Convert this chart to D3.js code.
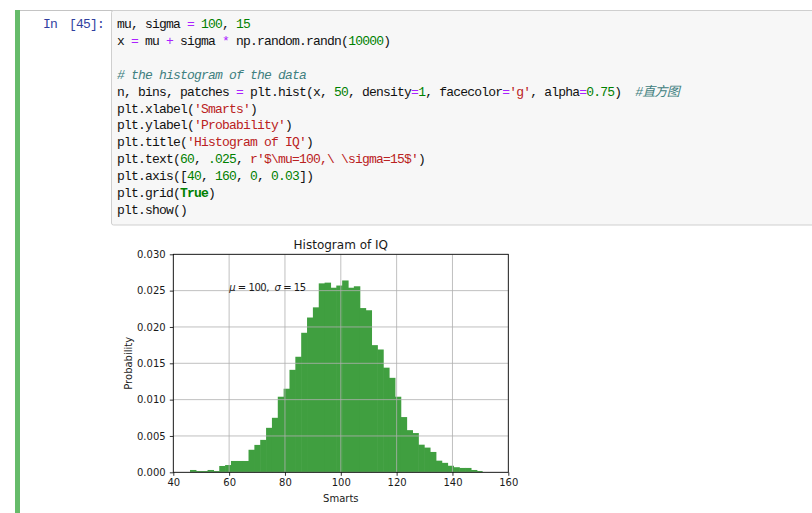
<!DOCTYPE html>
<html>
<head>
<meta charset="utf-8">
<script src="https://cdn.jsdelivr.net/npm/d3@7"></script>
<style>
  html, body { margin: 0; padding: 0; background: #fff; }
  svg { display: block; }
  text.code { white-space: pre; }
</style>
</head>
<body>
<div id="chart"></div>
<script>
// ---------------- data ----------------
const binMin = 45.98;      // left edge of first bin
const binMax = 150.8;      // right edge of last bin
const binCount = 50;
const densities = [
  0.00032, 0.00018, 0.00018, 0.00032, 0.00018, 0.00087, 0.00100, 0.00156, 0.00156, 0.00156,
  0.0031, 0.00377, 0.00446, 0.00612, 0.0075, 0.0104, 0.0115, 0.0141, 0.0159, 0.0192,
  0.0213, 0.0227, 0.0260, 0.0261, 0.0254, 0.0257, 0.0264, 0.0254, 0.0256, 0.0226,
  0.0223, 0.0175, 0.0169, 0.0144, 0.0130, 0.0104, 0.0076, 0.0058, 0.0054, 0.0038,
  0.0034, 0.0028, 0.0016, 0.0013, 0.0009, 0.0007, 0.0006, 0.0006, 0.00032, 0.00018
];
const xTicks = [40, 60, 80, 100, 120, 140, 160];
const yTicks = [0, 0.005, 0.010, 0.015, 0.020, 0.025, 0.030];
const titleText = "Histogram of IQ";
const xLabelText = "Smarts";
const yLabelText = "Probability";
const annotation = { x: 60, y: 0.025 };

const promptLabel = ["In", "[45]:"];
const codeLines = [
  [["mu, sigma ", "n"], ["=", "o"], [" ", "n"], ["100", "m"], [", ", "n"], ["15", "m"]],
  [["x ", "n"], ["=", "o"], [" mu ", "n"], ["+", "o"], [" sigma ", "n"], ["*", "o"], [" np.random.randn(", "n"], ["10000", "m"], [")", "n"]],
  [],
  [["# the histogram of the data", "c"]],
  [["n, bins, patches ", "n"], ["=", "o"], [" plt.hist(x, ", "n"], ["50", "m"], [", density", "n"], ["=", "o"], ["1", "m"], [", facecolor", "n"], ["=", "o"], ["'g'", "s"], [", alpha", "n"], ["=", "o"], ["0.75", "m"], [")  ", "n"], ["#直方图", "c"]],
  [["plt.xlabel(", "n"], ["'Smarts'", "s"], [")", "n"]],
  [["plt.ylabel(", "n"], ["'Probability'", "s"], [")", "n"]],
  [["plt.title(", "n"], ["'Histogram of IQ'", "s"], [")", "n"]],
  [["plt.text(", "n"], ["60", "m"], [", ", "n"], [".025", "m"], [", ", "n"], ["r'$\\mu=100,\\ \\sigma=15$'", "s"], [")", "n"]],
  [["plt.axis([", "n"], ["40", "m"], [", ", "n"], ["160", "m"], [", ", "n"], ["0", "m"], [", ", "n"], ["0.03", "m"], ["])", "n"]],
  [["plt.grid(", "n"], ["True", "k"], [")", "n"]],
  [["plt.show()", "n"]]
];

// ---------------- drawing ----------------
const W = 812, H = 513;
const svg = d3.select("#chart").append("svg").attr("width", W).attr("height", H);

// notebook cell chrome
svg.append("line").attr("x1", 20).attr("x2", W).attr("y1", 10.5).attr("y2", 10.5)
  .attr("stroke", "#c4c4c4").attr("stroke-width", 1);
svg.append("rect").attr("x", 111.5).attr("y", 10.5).attr("width", 720).attr("height", 214.5)
  .attr("fill", "#f7f7f7").attr("stroke", "#cfcfcf").attr("rx", 2);
svg.append("rect").attr("x", 15).attr("y", 10).attr("width", 5).attr("height", H - 10)
  .attr("fill", "#66bb6a");

const codeFont = "'Liberation Mono', 'DejaVu Sans Mono', 'Noto Sans CJK SC', monospace";
const styles = {
  n: { fill: "#111", style: "normal", weight: "normal" },
  o: { fill: "#aa22ff", style: "normal", weight: "normal" },
  m: { fill: "#008000", style: "normal", weight: "normal" },
  s: { fill: "#ba2121", style: "normal", weight: "normal" },
  c: { fill: "#408080", style: "italic", weight: "normal" },
  k: { fill: "#008000", style: "normal", weight: "bold" }
};

svg.append("text").attr("x", 43).attr("y", 28)
  .attr("font-family", codeFont).attr("font-size", 13).attr("letter-spacing", -0.8)
  .attr("fill", "#303f9f").text(promptLabel[0]);
svg.append("text").attr("x", 104).attr("y", 28).attr("text-anchor", "end")
  .attr("font-family", codeFont).attr("font-size", 13).attr("letter-spacing", -0.8)
  .attr("fill", "#303f9f").text(promptLabel[1]);

const lineStep = 16.9;
codeLines.forEach((tokens, i) => {
  const t = svg.append("text").attr("class", "code")
    .attr("x", 117).attr("y", 28 + i * lineStep)
    .attr("xml:space", "preserve")
    .attr("font-family", codeFont).attr("font-size", 13).attr("letter-spacing", -0.8);
  tokens.forEach(([str, kind]) => {
    const s = styles[kind];
    t.append("tspan").attr("fill", s.fill).attr("font-style", s.style)
      .attr("font-weight", s.weight).text(str);
  });
});

// chart
const x = d3.scaleLinear().domain([40, 160]).range([173.3, 508.3]);
const y = d3.scaleLinear().domain([0, 0.03]).range([472.3, 254.3]);
const chartFont = "'DejaVu Sans', sans-serif";

const binW = (binMax - binMin) / binCount;
const bins = densities.map((d, i) => ({ x0: binMin + i * binW, x1: binMin + (i + 1) * binW, v: d }));

// green 'g' at alpha 0.75 over white -> #40a040 (drawn opaque so bar seams do not show)
const g = svg.append("g");
g.selectAll("rect.bar").data(bins).enter().append("rect").attr("class", "bar")
  .attr("x", d => x(d.x0)).attr("width", (d, i) => x(d.x1) - x(d.x0) + (i < bins.length - 1 ? 0.6 : 0))
  .attr("y", d => y(d.v)).attr("height", d => y(0) - y(d.v))
  .attr("fill", "#409f40");

// grid (above patches)
g.selectAll("line.gx").data(xTicks).enter().append("line").attr("class", "gx")
  .attr("x1", d => x(d)).attr("x2", d => x(d)).attr("y1", y(0)).attr("y2", y(0.03))
  .attr("stroke", "#b0b0b0").attr("stroke-width", 0.8);
g.selectAll("line.gy").data(yTicks).enter().append("line").attr("class", "gy")
  .attr("x1", x(40)).attr("x2", x(160)).attr("y1", d => y(d)).attr("y2", d => y(d))
  .attr("stroke", "#b0b0b0").attr("stroke-width", 0.8);

// axes
const xAxis = d3.axisBottom(x).tickValues(xTicks).tickFormat(d3.format("d"))
  .tickSize(3.5).tickPadding(3.5);
const yAxis = d3.axisLeft(y).tickValues(yTicks).tickFormat(d3.format(".3f"))
  .tickSize(3.5).tickPadding(4.2);
const gx = svg.append("g").attr("transform", `translate(0,${y(0)})`).call(xAxis);
const gy = svg.append("g").attr("transform", `translate(${x(40)},0)`).call(yAxis);
[gx, gy].forEach(a => {
  a.select(".domain").remove();
  a.selectAll(".tick line").attr("stroke", "#000").attr("stroke-width", 0.8);
  a.selectAll(".tick text").attr("font-family", chartFont).attr("font-size", 10).attr("fill", "#1a1a1a");
});

// spines
svg.append("rect").attr("x", x(40)).attr("y", y(0.03))
  .attr("width", x(160) - x(40)).attr("height", y(0) - y(0.03))
  .attr("fill", "none").attr("stroke", "#000").attr("stroke-width", 0.8);

// title and labels
svg.append("text").attr("x", (x(40) + x(160)) / 2).attr("y", 249)
  .attr("text-anchor", "middle").attr("font-family", chartFont).attr("font-size", 12)
  .attr("fill", "#1a1a1a").text(titleText);
svg.append("text").attr("x", (x(40) + x(160)) / 2).attr("y", 502)
  .attr("text-anchor", "middle").attr("font-family", chartFont).attr("font-size", 10)
  .attr("fill", "#1a1a1a").text(xLabelText);
svg.append("text").attr("transform", `translate(132,${(y(0) + y(0.03)) / 2}) rotate(-90)`)
  .attr("text-anchor", "middle").attr("font-family", chartFont).attr("font-size", 10)
  .attr("fill", "#1a1a1a").text(yLabelText);

// annotation
const ann = svg.append("text").attr("x", x(annotation.x)).attr("y", y(annotation.y))
  .attr("font-family", chartFont).attr("font-size", 10).attr("fill", "#1a1a1a")
  .attr("xml:space", "preserve").style("white-space", "pre");
ann.append("tspan").attr("font-style", "italic").text("μ");
ann.append("tspan").text(" = 100,  ");
ann.append("tspan").attr("font-style", "italic").text("σ");
ann.append("tspan").text(" = 15");
ann.attr("textLength", 77).attr("lengthAdjust", "spacing");
</script>
</body>
</html>
